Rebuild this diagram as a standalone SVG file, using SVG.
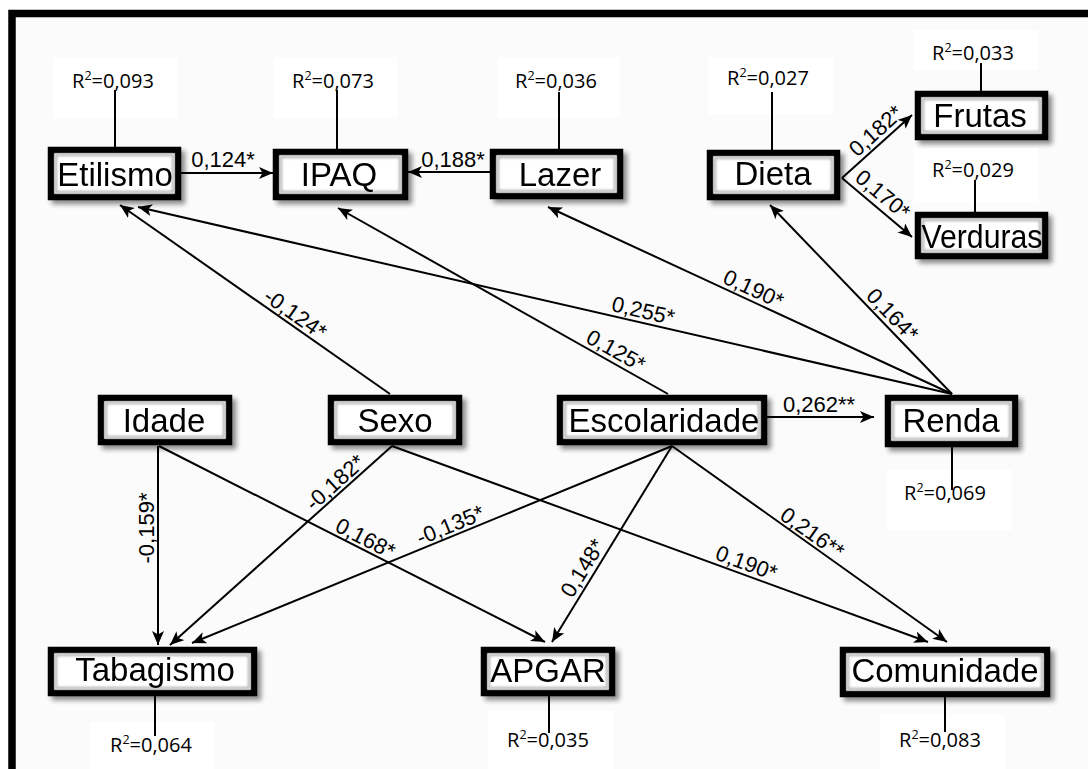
<svg xmlns="http://www.w3.org/2000/svg" width="1088" height="769" viewBox="0 0 1088 769">
<defs>
<style>
.box{fill:#fff;stroke:#000;stroke-width:6.5}
.inner{fill:none;stroke:#b8b8b8;stroke-width:2.5}
.nt{font-family:"Liberation Sans",Arial,sans-serif;font-size:33px;fill:#000;text-anchor:middle}
.el{font-family:"Liberation Sans",Arial,sans-serif;font-size:22px;fill:#000;text-anchor:middle}
.r2{font-family:"Open Sans","Liberation Sans",sans-serif;font-size:20px;fill:#000;text-anchor:middle}
.r2bg{fill:#fff}
.stem{stroke:#000;stroke-width:2}
.edge{stroke:#000;stroke-width:2;fill:none;marker-end:url(#arr)}
</style>
<marker id="arr" markerUnits="userSpaceOnUse" markerWidth="16" markerHeight="12" refX="14" refY="6" orient="auto">
<path d="M0,0 L14,6 L0,12 L3.5,6 z" fill="#000"/>
</marker>
<filter id="sh" x="-10%" y="-20%" width="130%" height="160%">
<feGaussianBlur in="SourceAlpha" stdDeviation="2.5"/>
<feOffset dx="4" dy="4" result="b"/>
<feComponentTransfer><feFuncA type="linear" slope="0.45"/></feComponentTransfer>
<feMerge><feMergeNode/><feMergeNode in="SourceGraphic"/></feMerge>
</filter>
<filter id="bl"><feGaussianBlur stdDeviation="1.2"/></filter>
</defs>
<rect x="0" y="0" width="1088" height="769" fill="#fff"/>
<rect x="12" y="13.5" width="1100" height="800" fill="#fbfbfb" stroke="#000" stroke-width="7.5"/>

<g id="r2-backgrounds">
<rect class="r2bg" x="53" y="57" width="124" height="61"/>
<rect class="r2bg" x="273" y="57" width="124" height="61"/>
<rect class="r2bg" x="497" y="57" width="123" height="61"/>
<rect class="r2bg" x="708" y="57" width="125" height="58"/>
<rect class="r2bg" x="913" y="30" width="125" height="40"/>
<rect class="r2bg" x="913" y="148" width="125" height="55"/>
<rect class="r2bg" x="887" y="470" width="125" height="60"/>
<rect class="r2bg" x="90" y="722" width="125" height="47"/>
<rect class="r2bg" x="488" y="710" width="125" height="59"/>
<rect class="r2bg" x="880" y="715" width="125" height="54"/>
</g>

<g id="connectors">
<line class="edge" x1="181" y1="173" x2="273" y2="173"/>
<line class="edge" x1="490" y1="172" x2="408" y2="172"/>
<line class="edge" x1="842" y1="178" x2="912" y2="115"/>
<line class="edge" x1="842" y1="178" x2="912" y2="237"/>
<line class="edge" x1="390" y1="394" x2="120" y2="205"/>
<line class="edge" x1="952" y1="394" x2="138" y2="207"/>
<line class="edge" x1="668" y1="394" x2="338" y2="208"/>
<line class="edge" x1="952" y1="394" x2="548" y2="207"/>
<line class="edge" x1="952" y1="394" x2="770" y2="205"/>
<line class="edge" x1="767" y1="417" x2="874" y2="417"/>
<line class="edge" x1="158" y1="446" x2="158" y2="645"/>
<line class="edge" x1="159" y1="446" x2="545" y2="642"/>
<line class="edge" x1="392" y1="446" x2="170" y2="645"/>
<line class="edge" x1="672" y1="446" x2="192" y2="643"/>
<line class="edge" x1="672" y1="446" x2="552" y2="642"/>
<line class="edge" x1="672" y1="446" x2="947" y2="642"/>
<line class="edge" x1="392" y1="446" x2="928" y2="642"/>
</g>

<g id="edge-labels">
<text class="el" x="223" y="167">0,124*</text>
<text class="el" x="453" y="167">0,188*</text>
<text class="el" x="819" y="412">0,262**</text>
<text class="el" transform="translate(880.8,136.4) rotate(-42)">0,182*</text>
<text class="el" transform="translate(878,200.3) rotate(40)">0,170*</text>
<text class="el" transform="translate(291,320) rotate(35)">-0,124*</text>
<text class="el" transform="translate(641.6,318) rotate(13)">0,255*</text>
<text class="el" transform="translate(612.3,357.2) rotate(29.3)">0,125*</text>
<text class="el" transform="translate(750.3,295.7) rotate(24.7)">0,190*</text>
<text class="el" transform="translate(887,320) rotate(46)">0,164*</text>
<text class="el" transform="translate(154,528) rotate(-90)">-0,159*</text>
<text class="el" transform="translate(362,545) rotate(27)">0,168*</text>
<text class="el" transform="translate(340,488) rotate(-42)">-0,182*</text>
<text class="el" transform="translate(453,532) rotate(-22.2)">-0,135*</text>
<text class="el" transform="translate(589,572) rotate(-58.4)">0,148*</text>
<text class="el" transform="translate(808,539) rotate(35.3)">0,216**</text>
<text class="el" transform="translate(744,570) rotate(20)">0,190*</text>
</g>

<g id="r2-labels">
<line class="stem" x1="115" y1="90" x2="115" y2="148"/>
<text class="r2" x="113" y="88">R<tspan dy="-8" font-size="12.5">2</tspan><tspan dy="8">=0,093</tspan></text>
<line class="stem" x1="337" y1="90" x2="337" y2="150"/>
<text class="r2" x="333" y="88">R<tspan dy="-8" font-size="12.5">2</tspan><tspan dy="8">=0,073</tspan></text>
<line class="stem" x1="559" y1="92" x2="559" y2="150"/>
<text class="r2" x="556" y="88">R<tspan dy="-8" font-size="12.5">2</tspan><tspan dy="8">=0,036</tspan></text>
<line class="stem" x1="772" y1="92" x2="772" y2="151"/>
<text class="r2" x="768" y="85">R<tspan dy="-8" font-size="12.5">2</tspan><tspan dy="8">=0,027</tspan></text>
<line class="stem" x1="981" y1="63" x2="981" y2="92"/>
<text class="r2" x="973" y="60">R<tspan dy="-8" font-size="12.5">2</tspan><tspan dy="8">=0,033</tspan></text>
<line class="stem" x1="975" y1="180" x2="975" y2="217"/>
<text class="r2" x="973" y="177">R<tspan dy="-8" font-size="12.5">2</tspan><tspan dy="8">=0,029</tspan></text>
<line class="stem" x1="952" y1="446" x2="952" y2="490"/>
<text class="r2" x="945" y="500">R<tspan dy="-8" font-size="12.5">2</tspan><tspan dy="8">=0,069</tspan></text>
<line class="stem" x1="155" y1="695" x2="155" y2="736"/>
<text class="r2" x="151" y="752">R<tspan dy="-8" font-size="12.5">2</tspan><tspan dy="8">=0,064</tspan></text>
<line class="stem" x1="549" y1="695" x2="549" y2="733"/>
<text class="r2" x="548" y="747">R<tspan dy="-8" font-size="12.5">2</tspan><tspan dy="8">=0,035</tspan></text>
<line class="stem" x1="945" y1="696" x2="945" y2="732"/>
<text class="r2" x="940" y="747">R<tspan dy="-8" font-size="12.5">2</tspan><tspan dy="8">=0,083</tspan></text>
</g>

<g id="node-etilismo" filter="url(#sh)"><rect class="box" x="51" y="150" width="127" height="47"/><rect class="inner" x="56" y="155" width="117" height="37" filter="url(#bl)"/><text class="nt" x="115" y="186">Etilismo</text></g>
<g id="node-ipaq" filter="url(#sh)"><rect class="box" x="276" y="152" width="129" height="45"/><rect class="inner" x="281" y="157" width="119" height="35" filter="url(#bl)"/><text class="nt" x="339" y="186">IPAQ</text></g>
<g id="node-lazer" filter="url(#sh)"><rect class="box" x="493" y="152" width="127" height="44"/><rect class="inner" x="498" y="157" width="117" height="34" filter="url(#bl)"/><text class="nt" x="560" y="186">Lazer</text></g>
<g id="node-dieta" filter="url(#sh)"><rect class="box" x="710" y="153" width="127" height="44"/><rect class="inner" x="715" y="158" width="117" height="34" filter="url(#bl)"/><text class="nt" x="773" y="185">Dieta</text></g>
<g id="node-frutas" filter="url(#sh)"><rect class="box" x="918" y="94" width="127" height="43"/><rect class="inner" x="923" y="99" width="117" height="33" filter="url(#bl)"/><text class="nt" x="980" y="127">Frutas</text></g>
<g id="node-verduras" filter="url(#sh)"><rect class="box" x="918" y="215" width="127" height="41"/><rect class="inner" x="923" y="220" width="117" height="31" filter="url(#bl)"/><text class="nt" x="982" y="248" font-size="30" textLength="121" lengthAdjust="spacingAndGlyphs">Verduras</text></g>
<g id="node-idade" filter="url(#sh)"><rect class="box" x="101" y="398" width="128" height="44"/><rect class="inner" x="106" y="403" width="118" height="34" filter="url(#bl)"/><text class="nt" x="164" y="432">Idade</text></g>
<g id="node-sexo" filter="url(#sh)"><rect class="box" x="331" y="398" width="128" height="44"/><rect class="inner" x="336" y="403" width="118" height="34" filter="url(#bl)"/><text class="nt" x="395" y="432">Sexo</text></g>
<g id="node-escolaridade" filter="url(#sh)"><rect class="box" x="560" y="398" width="204" height="44"/><rect class="inner" x="565" y="403" width="194" height="34" filter="url(#bl)"/><text class="nt" x="664" y="432">Escolaridade</text></g>
<g id="node-renda" filter="url(#sh)"><rect class="box" x="888" y="398" width="127" height="46"/><rect class="inner" x="893" y="403" width="117" height="36" filter="url(#bl)"/><text class="nt" x="951" y="432">Renda</text></g>
<g id="node-tabagismo" filter="url(#sh)"><rect class="box" x="51" y="650" width="203" height="43"/><rect class="inner" x="56" y="655" width="193" height="33" filter="url(#bl)"/><text class="nt" x="155" y="681">Tabagismo</text></g>
<g id="node-apgar" filter="url(#sh)"><rect class="box" x="484" y="650" width="128" height="43"/><rect class="inner" x="489" y="655" width="118" height="33" filter="url(#bl)"/><text class="nt" x="548" y="682">APGAR</text></g>
<g id="node-comunidade" filter="url(#sh)"><rect class="box" x="843" y="650" width="204" height="44"/><rect class="inner" x="848" y="655" width="194" height="34" filter="url(#bl)"/><text class="nt" x="945" y="682">Comunidade</text></g>
</svg>
